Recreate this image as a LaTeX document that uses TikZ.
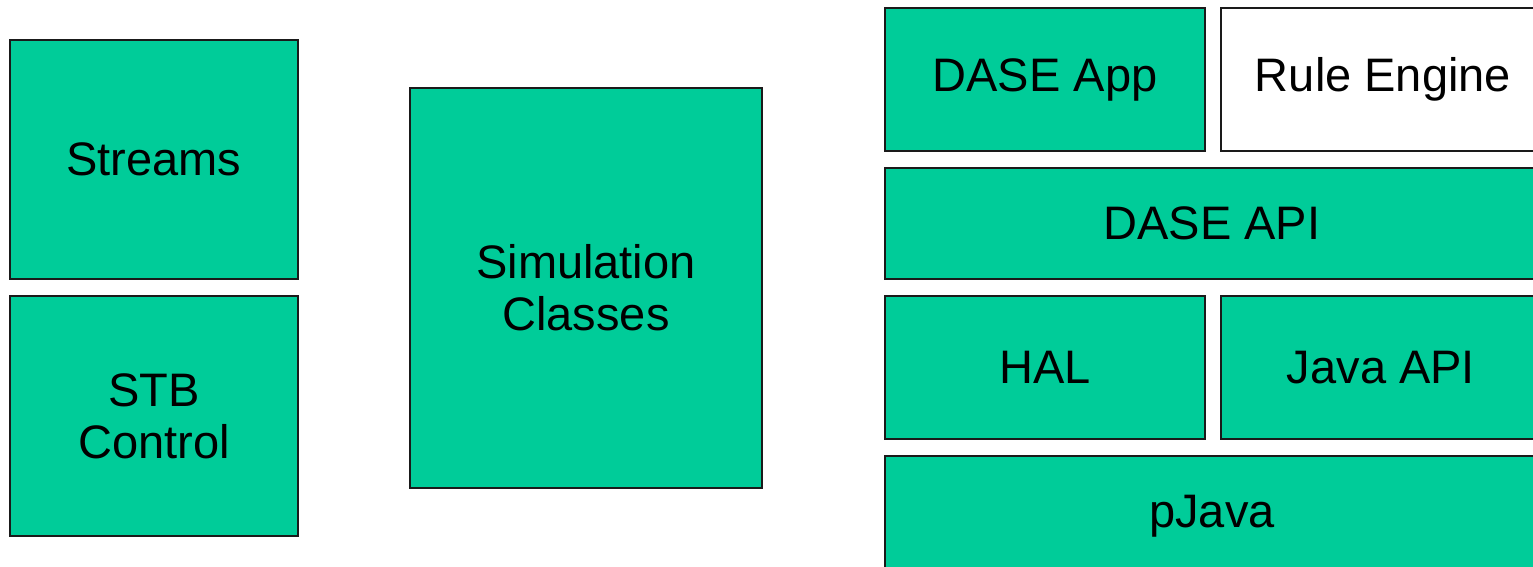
\documentclass[tikz,border=0pt]{standalone}
\usepackage{fontspec}
\setmainfont{Liberation Sans}
\usepackage{xcolor}
\usepackage{tikz}
\usetikzlibrary{positioning}
\definecolor{layergreen}{HTML}{00CC99}
\definecolor{edgegray}{HTML}{1A1A1A}

\tikzset{
  layer/.style={draw=edgegray, line width=1.5pt, fill=layergreen, outer sep=0pt,
    inner sep=0pt, align=center, font=\fontsize{47}{52}\selectfont},
  plain/.style={layer, fill=white}
}

\begin{document}
\begin{tikzpicture}[x=1pt, y=-1pt]
    \useasboundingbox (0,0) rectangle (1533,566);
    \clip (0,0) rectangle (1533,566);
    \fill[white] (0,0) rectangle (1533,566);

    % left column
    \node[layer, anchor=north west, minimum width=288pt, minimum height=239pt]
      (streams) at (10,40) {Streams};
    \node[layer, below=17pt of streams.south west, anchor=north west,
          minimum width=288pt, minimum height=240pt] (stb) {STB\\Control};

    % middle
    \node[layer, anchor=north west, minimum width=352pt, minimum height=400pt]
      (sim) at (410,88) {Simulation\\Classes};

    % right stack
    \node[layer, anchor=north west, minimum width=320pt, minimum height=143pt]
      (app) at (885,8) {DASE App};
    \node[plain, right=16pt of app, minimum width=324pt, minimum height=143pt]
      (rule) {Rule Engine};
    \node[layer, below=17pt of app.south west, anchor=north west,
          minimum width=654pt, minimum height=111pt] (api) {DASE API};
    \node[layer, below=17pt of api.south west, anchor=north west,
          minimum width=320pt, minimum height=143pt] (hal) {HAL};
    \node[layer, right=16pt of hal, minimum width=320pt, minimum height=143pt]
      (javaapi) {Java API};
    \node[layer, below=17pt of hal.south west, anchor=north west,
          minimum width=654pt, minimum height=120pt] (pjava) {pJava};
  \end{tikzpicture}
\end{document}
